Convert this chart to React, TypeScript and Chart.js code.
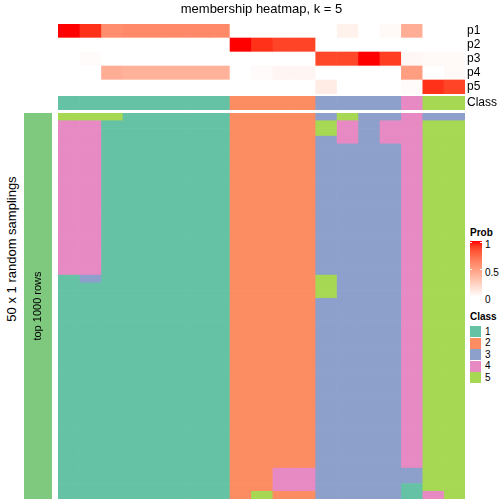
import React, { useEffect, useRef } from "react";
import { Chart, registerables } from "chart.js";

Chart.register(...registerables);

const FONT = "'Liberation Sans', Arial, Helvetica, sans-serif";

// ---------- data ----------
const sampleIds = [
  "s1", "s2", "s3", "s4", "s5", "s6", "s7", "s8", "s9", "s10",
  "s11", "s12", "s13", "s14", "s15", "s16", "s17", "s18", "s19",
];
const probNames = ["p1", "p2", "p3", "p4", "p5"];
const p1 = [1, 0.93, 0.58, 0.6, 0.6, 0.6, 0.6, 0.6, 0, 0, 0, 0, 0, 0.07, 0, 0.03, 0.42, 0, 0];
const p2 = [0, 0, 0, 0, 0, 0, 0, 0, 1, 0.93, 0.88, 0.88, 0, 0, 0, 0, 0, 0, 0];
const p3 = [0, 0.02, 0, 0, 0, 0, 0, 0, 0, 0, 0, 0, 0.87, 0.87, 1, 0.9, 0.04, 0.03, 0.03];
const p4 = [0, 0, 0.42, 0.4, 0.4, 0.4, 0.4, 0.4, 0, 0.02, 0.05, 0.05, 0, 0, 0, 0, 0.5, 0, 0.03];
const p5 = [0, 0, 0, 0, 0, 0, 0, 0, 0, 0, 0, 0, 0.1, 0, 0, 0, 0.02, 0.93, 0.88];
const sampleClass = [1, 1, 1, 1, 1, 1, 1, 1, 2, 2, 2, 2, 3, 3, 3, 3, 4, 5, 5];

// 50 random samplings (rows) x 19 samples (digits = class)
const samplingRows = [
  "5551111122223533433",
  "4411111122225434455",
  "4411111122225434455",
  "4411111122223434455",
  "4411111122223333455",
  "4411111122223333455",
  "4411111122223333455",
  "4411111122223333455",
  "4411111122223333455",
  "4411111122223333455",
  "4411111122223333455",
  "4411111122223333455",
  "4411111122223333455",
  "4411111122223333455",
  "4411111122223333455",
  "4411111122223333455",
  "4411111122223333455",
  "4411111122223333455",
  "4411111122223333455",
  "4411111122223333455",
  "4411111122223333455",
  "1311111122225333455",
  "1111111122225333455",
  "1111111122225333455",
  "1111111122223333455",
  "1111111122223333455",
  "1111111122223333455",
  "1111111122223333455",
  "1111111122223333455",
  "1111111122223333455",
  "1111111122223333455",
  "1111111122223333455",
  "1111111122223333455",
  "1111111122223333455",
  "1111111122223333455",
  "1111111122223333455",
  "1111111122223333455",
  "1111111122223333455",
  "1111111122223333455",
  "1111111122223333455",
  "1111111122223333455",
  "1111111122223333455",
  "1111111122223333455",
  "1111111122223333455",
  "1111111122223333455",
  "1111111122223333455",
  "1111111122443333355",
  "1111111122443333355",
  "1111111122443333155",
  "1111111125223333145",
];

const classLabels = ["1", "2", "3", "4", "5"];
const classColors = ["#66C2A5", "#FC8D62", "#8DA0CB", "#E78AC3", "#A6D854"];
const samplingBarColor = "#7FC97F";
const probLegendTicks = [1, 0.5, 0];

// ---------- colour helpers (white -> red in LAB, like colorRamp2) ----------
function toLin(c: number) {
  c /= 255;
  return c <= 0.04045 ? c / 12.92 : Math.pow((c + 0.055) / 1.055, 2.4);
}
function fromLin(c: number) {
  const v = c <= 0.0031308 ? 12.92 * c : 1.055 * Math.pow(c, 1 / 2.4) - 0.055;
  return Math.max(0, Math.min(255, Math.round(v * 255)));
}
const WX = 0.95047, WY = 1, WZ = 1.08883;
function rgbToLab(r: number, g: number, b: number) {
  const R = toLin(r), G = toLin(g), B = toLin(b);
  const X = (0.4124 * R + 0.3576 * G + 0.1805 * B) / WX;
  const Y = (0.2126 * R + 0.7152 * G + 0.0722 * B) / WY;
  const Z = (0.0193 * R + 0.1192 * G + 0.9505 * B) / WZ;
  const f = (t: number) => (t > 0.008856 ? Math.cbrt(t) : 7.787 * t + 16 / 116);
  const fx = f(X), fy = f(Y), fz = f(Z);
  return [116 * fy - 16, 500 * (fx - fy), 200 * (fy - fz)];
}
function labToRgb(L: number, a: number, b: number) {
  const fy = (L + 16) / 116;
  const fx = fy + a / 500;
  const fz = fy - b / 200;
  const inv = (t: number) => (t * t * t > 0.008856 ? t * t * t : (t - 16 / 116) / 7.787);
  const X = inv(fx) * WX, Y = inv(fy) * WY, Z = inv(fz) * WZ;
  const R = 3.2406 * X - 1.5372 * Y - 0.4986 * Z;
  const G = -0.9689 * X + 1.8758 * Y + 0.0415 * Z;
  const B = 0.0557 * X - 0.204 * Y + 1.057 * Z;
  return `rgb(${fromLin(R)},${fromLin(G)},${fromLin(B)})`;
}
const LAB_WHITE = rgbToLab(255, 255, 255);
const LAB_RED = rgbToLab(255, 0, 0);
function probColor(t: number) {
  const v = Math.max(0, Math.min(1, t));
  return labToRgb(
    LAB_WHITE[0] + (LAB_RED[0] - LAB_WHITE[0]) * v,
    LAB_WHITE[1] + (LAB_RED[1] - LAB_WHITE[1]) * v,
    LAB_WHITE[2] + (LAB_RED[2] - LAB_WHITE[2]) * v
  );
}

// ---------- chart builders ----------
function heatmapChart(
  canvas: HTMLCanvasElement,
  rowLabels: string[],
  cellColors: string[][], // [row][col]
  showRowNames: boolean,
  title?: string
) {
  const datasets = sampleIds.map((id, j) => ({
    label: id,
    data: rowLabels.map(() => 1),
    backgroundColor: rowLabels.map((_, i) => cellColors[i][j]),
    borderWidth: 0,
    barPercentage: 1,
    categoryPercentage: 1,
  }));
  const yScale: any = {
    stacked: true,
    display: showRowNames,
    position: "right",
    grid: { display: false, drawTicks: false },
    border: { display: false },
    ticks: {
      color: "#000",
      padding: 2,
      autoSkip: false,
      font: { family: FONT, size: 12 },
    },
  };
  if (showRowNames) {
    yScale.afterFit = (s: any) => {
      s.width = 39;
      s.paddingTop = 0;
      s.paddingBottom = 0;
    };
  }
  return new Chart(canvas, {
    type: "bar",
    data: { labels: rowLabels, datasets },
    options: {
      indexAxis: "y",
      responsive: false,
      maintainAspectRatio: false,
      animation: false,
      events: [],
      layout: { padding: 0 },
      plugins: {
        legend: { display: false },
        tooltip: { enabled: false },
        title: title
          ? {
              display: true,
              text: title,
              fullSize: false,
              color: "#000",
              font: { family: FONT, size: 13, weight: "normal", lineHeight: 1.2 },
              padding: { top: 2, bottom: 6.4 },
            }
          : { display: false },
      },
      scales: {
        x: { stacked: true, min: 0, max: sampleIds.length, display: false },
        y: yScale,
      },
    } as any,
  });
}

const barLabelPlugin = {
  id: "barLabel",
  afterDatasetsDraw(chart: any) {
    const meta = chart.getDatasetMeta(0);
    const ctx = chart.ctx;
    meta.data.forEach((bar: any, i: number) => {
      const { x, y, base } = bar.getProps(["x", "y", "base"], true);
      ctx.save();
      ctx.translate(x, (y + base) / 2);
      ctx.rotate(-Math.PI / 2);
      ctx.font = `11px ${FONT}`;
      ctx.fillStyle = "#000";
      ctx.textAlign = "center";
      ctx.textBaseline = "middle";
      ctx.fillText(chart.data.labels[i], 0, 0);
      ctx.restore();
    });
  },
};

export default function App() {
  const topRef = useRef<HTMLCanvasElement>(null);
  const classRef = useRef<HTMLCanvasElement>(null);
  const leftRef = useRef<HTMLCanvasElement>(null);
  const mainRef = useRef<HTMLCanvasElement>(null);

  useEffect(() => {
    const probs = [p1, p2, p3, p4, p5];
    const charts: Chart[] = [];
    charts.push(
      heatmapChart(
        topRef.current!,
        probNames,
        probs.map((row) => row.map((v) => probColor(v))),
        true,
        "membership heatmap, k = 5"
      )
    );
    charts.push(
      heatmapChart(
        classRef.current!,
        ["Class"],
        [sampleClass.map((c) => classColors[c - 1])],
        true
      )
    );
    charts.push(
      heatmapChart(
        mainRef.current!,
        samplingRows.map((_, i) => `r${i + 1}`),
        samplingRows.map((r) => r.split("").map((d) => classColors[Number(d) - 1])),
        false
      )
    );
    charts.push(
      new Chart(leftRef.current!, {
        type: "bar",
        data: {
          labels: ["top 1000 rows"],
          datasets: [
            {
              data: [1],
              backgroundColor: samplingBarColor,
              borderWidth: 0,
              barPercentage: 1,
              categoryPercentage: 1,
            },
          ],
        },
        options: {
          responsive: false,
          maintainAspectRatio: false,
          animation: false,
          events: [],
          layout: { padding: 0 },
          plugins: { legend: { display: false }, tooltip: { enabled: false } },
          scales: {
            x: { display: false },
            y: { display: false, min: 0, max: 1 },
          },
        } as any,
        plugins: [barLabelPlugin],
      })
    );
    return () => charts.forEach((c) => c.destroy());
  }, []);

  const gradStops = [1, 0.9, 0.8, 0.7, 0.6, 0.5, 0.4, 0.3, 0.2, 0.1, 0]
    .map((v) => `${probColor(v)} ${((1 - v) * 100).toFixed(0)}%`)
    .join(", ");

  const abs = (l: number, t: number): React.CSSProperties => ({ position: "absolute", left: l, top: t });
  const txt = (size: number, bold = false): React.CSSProperties => ({
    fontSize: size,
    fontWeight: bold ? "bold" : "normal",
    lineHeight: "12px",
    whiteSpace: "nowrap",
    color: "#000",
  });

  return (
    <div
      style={{
        position: "fixed",
        left: 0,
        top: 0,
        width: 504,
        height: 504,
        background: "#fff",
        fontFamily: FONT,
        overflow: "hidden",
      }}
    >
      <canvas ref={topRef} width={446} height={94} style={{ ...abs(58, 0), display: "block" }} />
      <canvas ref={classRef} width={446} height={14} style={{ ...abs(58, 96), display: "block" }} />
      <canvas ref={leftRef} width={28} height={386} style={{ ...abs(24, 113), display: "block" }} />
      <canvas ref={mainRef} width={407} height={386} style={{ ...abs(58, 113), display: "block" }} />

      <div
        style={{
          position: "absolute",
          left: 11,
          top: 249,
          transform: "translate(-50%, -50%) rotate(-90deg)",
          fontSize: 13,
          lineHeight: "15px",
          whiteSpace: "nowrap",
          color: "#000",
        }}
      >
        50 x 1 random samplings
      </div>

      {/* Prob legend */}
      <div style={{ ...abs(470, 227), ...txt(10, true) }}>Prob</div>
      <div
        style={{
          ...abs(470, 241),
          width: 12,
          height: 56,
          background: `linear-gradient(to bottom, ${gradStops})`,
        }}
      />
      <div style={{ ...abs(470, 269), width: 2, height: 1, background: "#fff" }} />
      <div style={{ ...abs(480, 269), width: 2, height: 1, background: "#fff" }} />
      <div style={{ ...abs(470, 242), width: 2, height: 1, background: "#fff" }} />
      <div style={{ ...abs(480, 242), width: 2, height: 1, background: "#fff" }} />
      {probLegendTicks.map((v, i) => (
        <div key={v} style={{ ...abs(485, [239, 267, 294][i]), ...txt(10) }}>
          {String(v)}
        </div>
      ))}

      {/* Class legend */}
      <div style={{ ...abs(470, 311), ...txt(10, true) }}>Class</div>
      {classLabels.map((lab, i) => (
        <React.Fragment key={lab}>
          <div
            style={{
              ...abs(470, 326 + i * 11.5),
              width: 11,
              height: 11,
              background: classColors[i],
            }}
          />
          <div style={{ ...abs(485, 325.5 + i * 11.5), ...txt(10) }}>{lab}</div>
        </React.Fragment>
      ))}
    </div>
  );
}
